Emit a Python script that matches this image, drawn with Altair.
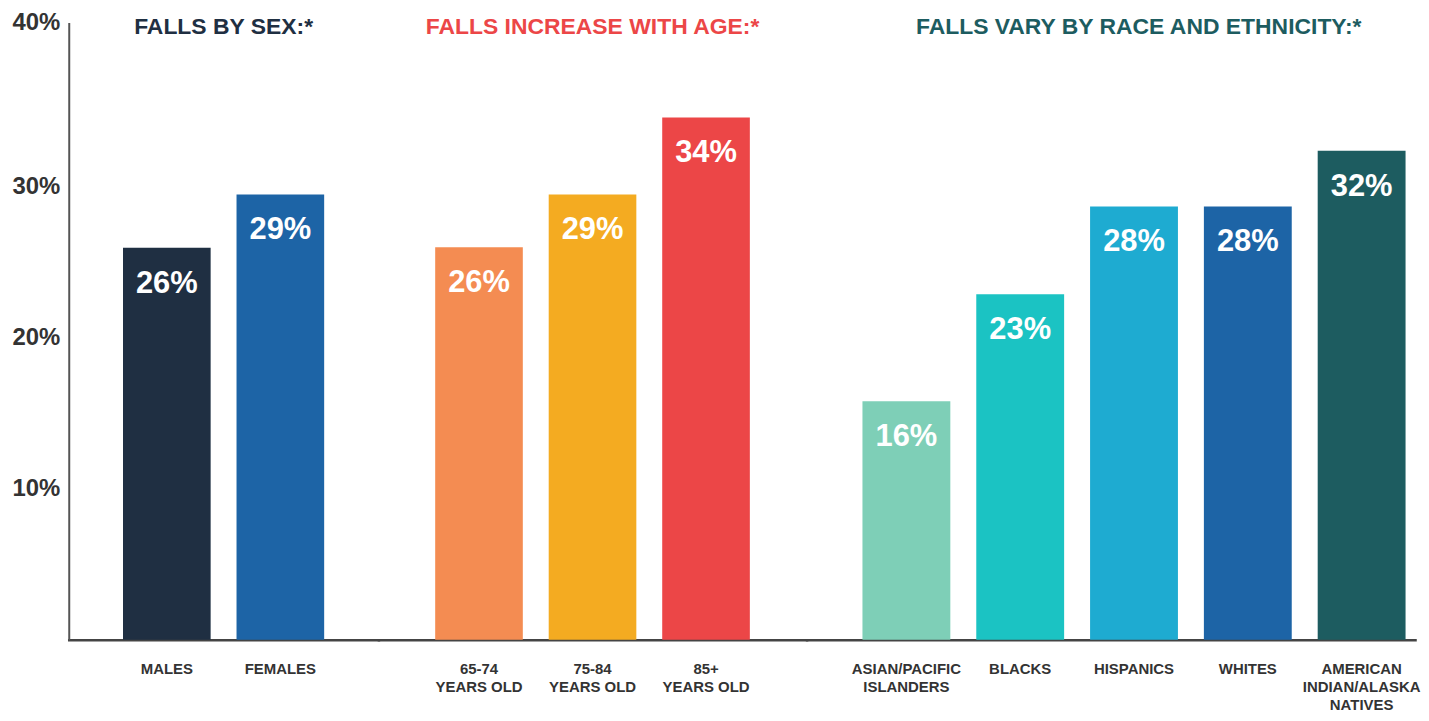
import altair as alt
import pandas as pd

groups = ["sex", "sex", "age", "age", "age", "race", "race", "race", "race", "race"]
categories = [
    "MALES", "FEMALES",
    "65-74\nYEARS OLD", "75-84\nYEARS OLD", "85+\nYEARS OLD",
    "ASIAN/PACIFIC\nISLANDERS", "BLACKS", "HISPANICS", "WHITES",
    "AMERICAN\nINDIAN/ALASKA\nNATIVES",
]
values = [25.97, 29.5, 26.0, 29.5, 34.6, 15.8, 22.9, 28.7, 28.7, 32.4]
labels = ["26%", "29%", "26%", "29%", "34%", "16%", "23%", "28%", "28%", "32%"]
colors = ["#1f2f42", "#1d64a6", "#f48c52", "#f4ab21", "#ec4647",
          "#7ecfb7", "#1bc3c3", "#1eabd1", "#1d64a6", "#1d5c60"]

group_titles = {
    "sex": ("FALLS BY SEX:*", "#1f2f42"),
    "age": ("FALLS INCREASE WITH AGE:*", "#ec4647"),
    "race": ("FALLS VARY BY RACE AND ETHNICITY:*", "#1d5c60"),
}

df = pd.DataFrame({"group": groups, "category": categories,
                   "value": values, "label": labels})

Y_TOP = 40.9
PLOT_H = 620


def panel(group, width, pad_outer, align, show_y, title_offset, title_dx=0):
    cats = [c for c, g in zip(categories, groups) if g == group]
    cols = [col for col, g in zip(colors, groups) if g == group]
    sub = df[df["group"] == group]
    x = alt.X("category:N", sort=cats,
              scale=alt.Scale(domain=cats, paddingInner=0.228,
                              paddingOuter=pad_outer, align=align),
              axis=alt.Axis(title=None, labelAngle=0, ticks=False,
                            domainColor="#444", domainWidth=2.5,
                            domainCap="square",
                            labelFont="Liberation Sans",
                            labelFontWeight="bold", labelFontSize=15,
                            labelColor="#333", labelPadding=22,
                            labelLineHeight=18, labelBaseline="top",
                            labelLimit=300,
                            labelExpr="split(datum.label, '\\n')"))
    if show_y:
        yaxis = alt.Axis(title=None, values=[10, 20, 30, Y_TOP],
                         labelExpr="datum.value > 40 ? '40%' : datum.value + '%'",
                         grid=False, ticks=False, domainColor="#555",
                         domainWidth=2, labelFont="Liberation Sans",
                         labelFontWeight="bold", labelFontSize=24,
                         labelColor="#333", labelPadding=9)
    else:
        yaxis = None
    y = alt.Y("value:Q", scale=alt.Scale(domain=[0, Y_TOP], nice=False),
              axis=yaxis)
    base = alt.Chart(sub)
    bars = base.mark_bar().encode(
        x=x, y=y,
        color=alt.Color("category:N", scale=alt.Scale(domain=cats, range=cols),
                        legend=None),
    )
    text = base.mark_text(color="white", font="Liberation Sans",
                          fontWeight="bold", fontSize=31, dy=36).encode(
        x=alt.X("category:N", sort=cats), y="value:Q", text="label:N")
    ttl, tcol = group_titles[group]
    return alt.layer(bars, text).properties(
        width=width, height=PLOT_H,
        title=alt.TitleParams(ttl, color=tcol, font="Liberation Sans",
                              fontSize=23, fontWeight="bold", anchor="middle",
                              baseline="alphabetic", frame="group",
                              offset=title_offset, dx=title_dx),
    )


p1 = panel("sex", 311, 0.478, 0.5, True, -47)
p2 = panel("age", 430, 0.5, 0.5, False, -35)
p3 = panel("race", 611, 0.287, 0.855, False, -35, title_dx=28)

chart = alt.hconcat(p1, p2, p3, spacing=0).resolve_scale(
    color="independent", x="independent"
).configure_view(stroke=None).properties(
    padding={"left": 3, "top": 1, "right": 0, "bottom": 0}
)

chart.save("out.html", embed_options={"renderer": "svg", "actions": False})
